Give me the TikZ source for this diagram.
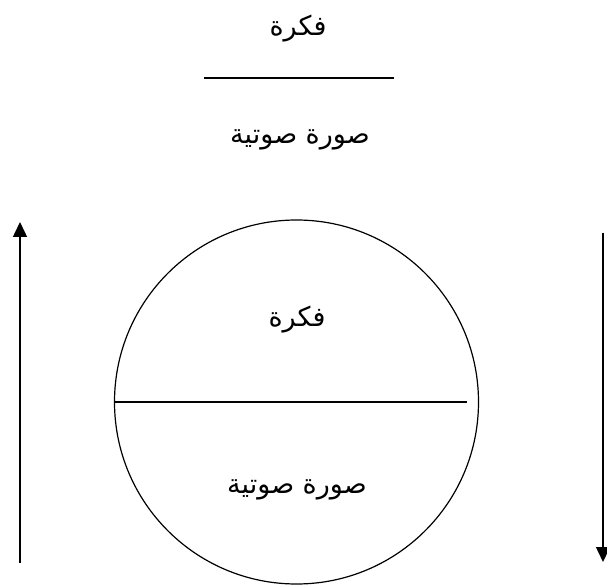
\documentclass[tikz,border=0pt]{standalone}
\usepackage{fontspec}
\usetikzlibrary{arrows.meta}
\newfontfamily\arabicfont[Script=Arabic]{DejaVu Sans}
\TeXXeTstate=1
\begin{document}
\begin{tikzpicture}[x=1pt,y=-1pt,
  lbl/.style={font=\arabicfont\fontsize{27}{32}\selectfont, inner sep=0pt},
  rule/.style={line width=1.2pt},
  arr/.style={line width=1.5pt,-{Triangle[length=15pt,width=14pt]}}]
\useasboundingbox (0,0) rectangle (607,585);
\node[lbl] (t1) at (298,29) {\beginR فكرة\endR};
\coordinate (h1l) at (204,78);
\coordinate (h1r) at (394,78);
\draw[rule] (h1l) -- (h1r);
\node[lbl] (t2) at (300,140) {\beginR صورة صوتية\endR};
\node[draw, circle, line width=1.2pt, minimum size=364pt, inner sep=0pt] (c) at (296.5,402) {};
\coordinate (h2l) at (114,402);
\coordinate (h2r) at (467,402);
\draw[rule] (h2l) -- (h2r);
\node[lbl] (t3) at (297,320) {\beginR فكرة\endR};
\node[lbl] (t4) at (297,490) {\beginR صورة صوتية\endR};
\coordinate (la) at (20,563);
\coordinate (lb) at (20,222);
\draw[arr] (la) -- (lb);
\coordinate (ra) at (603,233);
\coordinate (rb) at (603,562);
\draw[arr] (ra) -- (rb);
\end{tikzpicture}
\end{document}
